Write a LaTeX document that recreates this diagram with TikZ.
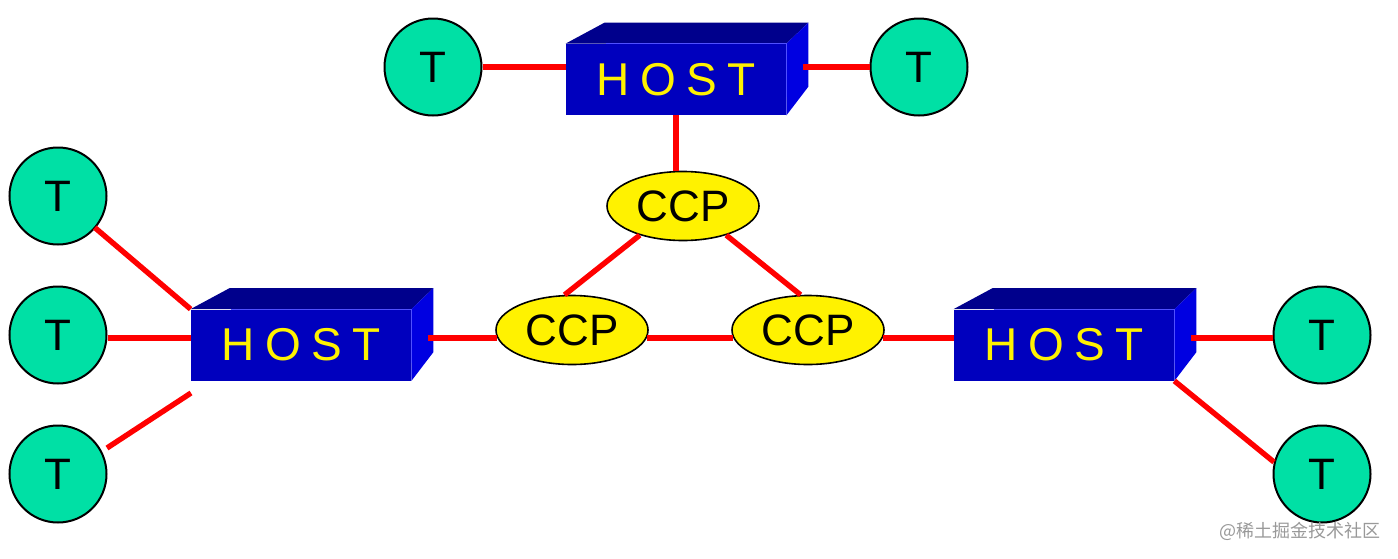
\documentclass[tikz,border=0pt]{standalone}
\usepackage{fontspec}
\setmainfont{Liberation Sans}
\newfontfamily\cjk{Noto Sans CJK SC}
\usetikzlibrary{shapes.geometric,calc}
\definecolor{hostfront}{RGB}{0,0,190}
\definecolor{hosttop}{RGB}{0,0,140}
\definecolor{hostside}{RGB}{0,0,225}
\definecolor{hostedge}{RGB}{80,80,255}
\definecolor{termfill}{RGB}{0,224,165}
\tikzset{
  term/.style={circle,draw=black,line width=1pt,fill=termfill,minimum size=48.5pt,inner sep=0pt,font=\fontsize{22}{22}\selectfont},
  ccp/.style={ellipse,draw=black,line width=0.8pt,fill=yellow,minimum width=76pt,minimum height=34.5pt,inner sep=0pt,font=\fontsize{22}{22}\selectfont},
  host/.style={rectangle,fill=hostfront,text=yellow,minimum width=110pt,minimum height=35.5pt,inner sep=0pt,font=\fontsize{23}{23}\selectfont},
  link/.style={draw=red,line width=2.7pt}
}
\newcommand{\hostlabel}{H\hspace{5.2pt}O\hspace{5.2pt}S\hspace{5.2pt}T}
% top and side faces behind a host front
\newcommand{\hostback}[1]{
  \fill[hosttop] (#1.north west) -- ++(39,-21) -- ($(#1.north east)+(22,-21)$) -- (#1.north east) -- cycle;
  \fill[hostside] (#1.north east) -- ++(22,-21) -- ++(0,64) -- (#1.south east) -- cycle;
  \draw[hostedge,line width=0.5pt] ($(#1.north west)+(40,0)$) -- (#1.north east) -- ($(#1.south east)+(0,-18)$);
}
\begin{document}
\begin{tikzpicture}[x=0.5pt,y=-0.5pt]
  \useasboundingbox (0,0) rectangle (1398,558);

  \node[host] (hosttop) at (676,79.5) {\hostlabel};
  \node[host] (hostleft) at (301,345) {\hostlabel};
  \node[host] (hostright) at (1064,345) {\hostlabel};
  \hostback{hosttop}
  \hostback{hostleft}
  \hostback{hostright}

  \node[term] (ttopa) at (433,67) {T};
  \node[term] (ttopb) at (919,67) {T};
  \node[term] (tlefta) at (58,196) {T};
  \node[term] (tleftb) at (58,335) {T};
  \node[term] (tleftc) at (58,474) {T};
  \node[term] (trighta) at (1322,335) {T};
  \node[term] (trightb) at (1322,474) {T};

  \node[ccp] (ccptop) at (683,206) {CCP};
  \node[ccp] (ccpleft) at (572,330) {CCP};
  \node[ccp] (ccpright) at (808,330) {CCP};

  % free ends that stop short of a node
  \coordinate (porta) at (803,67);
  \coordinate (portb) at (428,338);
  \coordinate (portc) at (1191,338);
  \coordinate (portd) at (191,393);
  \coordinate (porte) at (107,448);

  \draw[link] (ttopa.east) -- (ttopa.east -| hosttop.west);
  \draw[link] (porta) -- (ttopb.west);
  \draw[link] (hosttop.south) -- (hosttop.south |- ccptop.north);
  \draw[link] (ccptop.214) -- (ccpleft.102);
  \draw[link] (ccptop.326) -- (ccpright.102);
  \draw[link] (portb -| ccpleft.-6) -- (portb -| ccpright.186);
  \draw[link] (portb) -- (portb -| ccpleft.186);
  \draw[link] (portb -| ccpright.-6) -- (portb -| hostright.west);
  \draw[link] (tlefta) ++(36.8,31.6) -- (hostleft.north west);
  \draw[link] (tleftb.east |- portb) -- (portb -| hostleft.west);
  \draw[link] (porte) -- (portd);
  \draw[link] (portc) -- (portc -| trighta.west);
  \draw[link] (hostright.south east) -- (trightb.166);

  \node[text=black!40,font=\cjk\fontsize{9}{9}\selectfont,inner sep=0pt] (mark) at (1300,531) {@稀土掘金技术社区};
\end{tikzpicture}
\end{document}
